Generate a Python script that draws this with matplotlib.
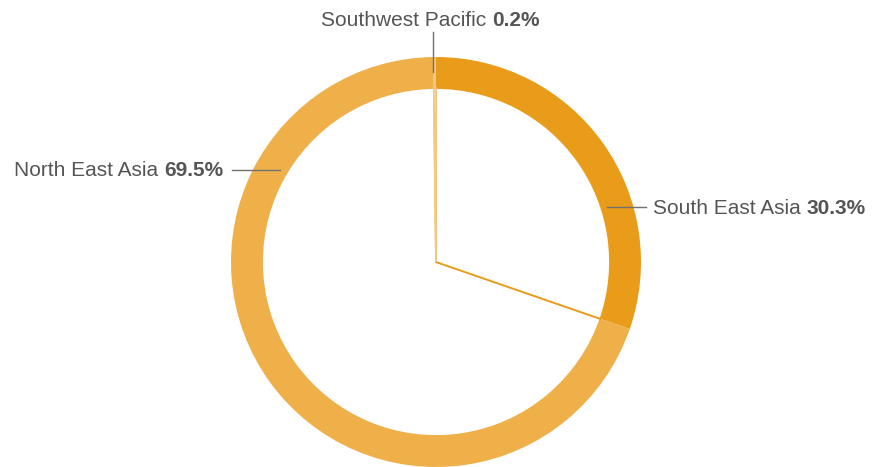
import matplotlib.pyplot as plt

# data
regions = ['South East Asia', 'North East Asia', 'Southwest Pacific']
shares = [30.3, 69.5, 0.2]
colors = ['#E99C19', '#EFB04A', '#F4C886']

plt.rcParams['font.family'] = ['Liberation Sans', 'DejaVu Sans']

fig = plt.figure(figsize=(8.72, 4.67), dpi=100)
ax = fig.add_axes([0, 0, 1, 1])

cx, cy = 436, 205
r_out, r_in = 205, 174

# outer ring
ax.pie(shares, colors=colors, startangle=90, counterclock=False,
       radius=r_out, center=(cx, cy), frame=True,
       wedgeprops=dict(width=r_out - r_in, linewidth=0))
# inner white wedges with coloured edges
ax.pie(shares, colors=['white'] * 3, startangle=90, counterclock=False,
       radius=r_in, center=(cx, cy), frame=True,
       wedgeprops=dict(linewidth=1.3))
for w, c, z in zip(ax.patches[3:], colors, [3, 2, 4]):
    w.set_edgecolor(c)
    w.set_zorder(z)
ax.set_xlim(0, 872)
ax.set_ylim(0, 467)
ax.set_aspect('equal')
ax.axis('off')

txt = '#555555'
line_c = '#707070'
fs = 15

# leader lines
ax.plot([607, 646], [467 - 207, 467 - 207], color=line_c, lw=1, zorder=5)
ax.plot([232, 280], [467 - 170, 467 - 170], color=line_c, lw=1, zorder=5)
ax.plot([433, 433], [467 - 32, 467 - 72], color=line_c, lw=1, zorder=5)

fig.canvas.draw()
r = fig.canvas.get_renderer()
inv = ax.transData.inverted()


def label_left(x, y, name, pct):
    t = ax.text(x, y, name + ' ', ha='left', va='center', fontsize=fs, color=txt)
    bb = t.get_window_extent(r)
    x2 = inv.transform((bb.x1, 0))[0]
    ax.text(x2, y, pct, ha='left', va='center', fontsize=fs, color=txt, fontweight='bold')


def label_right(x, y, name, pct):
    t = ax.text(x, y, pct, ha='right', va='center', fontsize=fs, color=txt, fontweight='bold')
    bb = t.get_window_extent(r)
    x2 = inv.transform((bb.x0, 0))[0]
    ax.text(x2, y, name + ' ', ha='right', va='center', fontsize=fs, color=txt)


label_left(653, 467 - 208.5, regions[0], f'{shares[0]}%')
label_right(223, 467 - 171, regions[1], f'{shares[1]}%')

# top label centred
t1 = ax.text(0, 0, regions[2] + ' ', fontsize=fs)
t2 = ax.text(0, 0, f'{shares[2]}%', fontsize=fs, fontweight='bold')
w1 = t1.get_window_extent(r).width
w2 = t2.get_window_extent(r).width
t1.remove()
t2.remove()
x0 = 430 - (w1 + w2) / 2
label_left(x0, 467 - 20, regions[2], f'{shares[2]}%')

fig.savefig('out.png', dpi=100)
